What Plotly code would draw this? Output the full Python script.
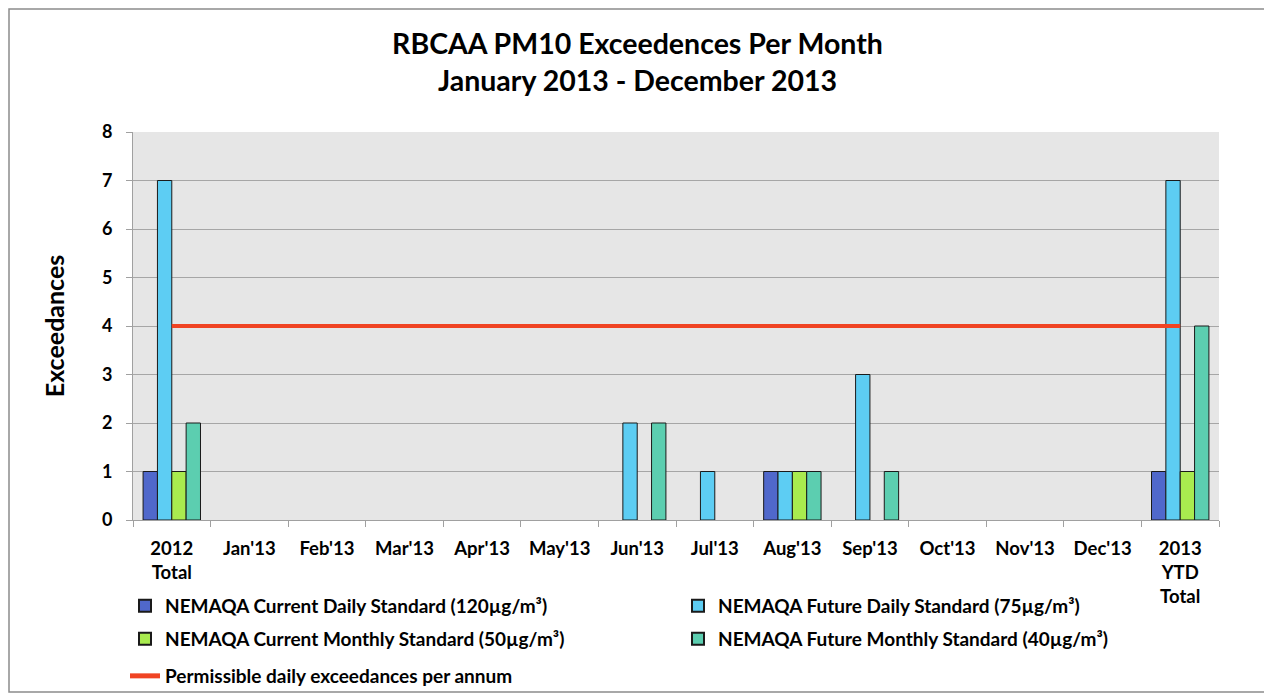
import plotly.graph_objects as go

categories = ["2012<br>Total", "Jan'13", "Feb'13", "Mar'13", "Apr'13", "May'13", "Jun'13",
              "Jul'13", "Aug'13", "Sep'13", "Oct'13", "Nov'13", "Dec'13", "2013<br>YTD<br>Total"]
current_daily = [1, 0, 0, 0, 0, 0, 0, 0, 1, 0, 0, 0, 0, 1]
future_daily = [7, 0, 0, 0, 0, 0, 2, 1, 1, 3, 0, 0, 0, 7]
current_monthly = [1, 0, 0, 0, 0, 0, 0, 0, 1, 0, 0, 0, 0, 1]
future_monthly = [2, 0, 0, 0, 0, 0, 2, 0, 1, 1, 0, 0, 0, 4]
permissible = [4] * 14
y_ticks = [0, 1, 2, 3, 4, 5, 6, 7, 8]

FONT = "Lato"
OFF = 8  # page body margin
W, H = 1272 - OFF, 730 - OFF  # a little taller than the window so bottom legend does not push margins
# plot area in screen pixels
PL, PR, PT, PB = 133, 1219, 132, 520
L, T = PL - OFF, PT - OFF
R, B = (W + OFF) - PR, (H + OFF) - PB
pw, ph = PR - PL, PB - PT

def px_x(p):
    return (p - PL) / pw

def px_y(p):
    return (PB - p) / ph

fig = go.Figure()
series = [
    ("NEMAQA Current Daily Standard (120µg/m³)", current_daily, "#5068CB", "legend"),
    ("NEMAQA Future Daily Standard (75µg/m³)", future_daily, "#5DCDF3", "legend"),
    ("NEMAQA Current Monthly Standard (50µg/m³)", current_monthly, "#A9EB4F", "legend2"),
    ("NEMAQA Future Monthly Standard (40µg/m³)", future_monthly, "#5CCEB0", "legend2"),
]
for name, vals, col, lg in series:
    fig.add_trace(go.Bar(
        x=categories, y=[v if v else None for v in vals], name=name,
        marker=dict(color=col, line=dict(color="#1a1a1a", width=1)),
        legend=lg,
    ))
fig.add_trace(go.Scatter(
    x=categories, y=permissible, mode="lines", name="Permissible daily exceedances per annum",
    line=dict(color="#F04423", width=4), legend="legend3",
))

legend_common = dict(
    orientation="h", xanchor="left", yanchor="middle",
    font=dict(family=FONT, size=19, color="#000000", weight="bold"),
    bgcolor="rgba(0,0,0,0)", entrywidth=508, entrywidthmode="pixels",
    itemsizing="constant", tracegroupgap=0,
)

fig.update_layout(
    width=W, height=H,
    margin=dict(l=L, r=R, t=T, b=B),
    paper_bgcolor="#ffffff",
    plot_bgcolor="#E6E6E6",
    barmode="group",
    bargap=0.26,
    bargroupgap=0,
    font=dict(family=FONT, color="#000000"),
    title=dict(
        text="<b>RBCAA PM10 Exceedences Per Month<br>January 2013 - December 2013</b>",
        x=(637.5 - OFF) / W, xref="container", xanchor="center",
        y=1 - (61.5 - 2 * OFF) / H, yref="container", yanchor="middle",
        font=dict(family=FONT, size=28.5, color="#000000"),
    ),
    xaxis=dict(
        tickfont=dict(family=FONT, size=18.5, color="#000000", weight="bold"),
        showline=True, linecolor="#A0A0A0", linewidth=1,
        ticks="outside", tickson="boundaries", ticklen=6, tickcolor="#A0A0A0",
        ticklabelstandoff=12,
        showgrid=False,
    ),
    yaxis=dict(
        range=[0, 8], tickvals=y_ticks,
        tickfont=dict(family=FONT, size=18, color="#000000", weight="bold"),
        showline=True, linecolor="#A0A0A0", linewidth=1,
        ticks="outside", ticklen=6, tickcolor="#A0A0A0",
        ticklabelstandoff=10,
        showgrid=True, gridcolor="#A6A6A6", gridwidth=1,
        title=dict(text="<b>Exceedances</b>", font=dict(family=FONT, size=25, color="#000000"), standoff=30),
        zeroline=False,
    ),
    legend=dict(x=px_x(125), y=px_y(606), **legend_common),
    legend2=dict(x=px_x(125), y=px_y(639), **legend_common),
    legend3=dict(x=px_x(125), y=px_y(676), **legend_common),
    shapes=[dict(
        type="rect", xref="paper", yref="paper",
        x0=px_x(9), x1=px_x(1268), y0=px_y(692), y1=px_y(9),
        line=dict(color="#8C8C8C", width=1.5), fillcolor="rgba(0,0,0,0)", layer="below",
    )],
)

fig.write_html("out.html")
